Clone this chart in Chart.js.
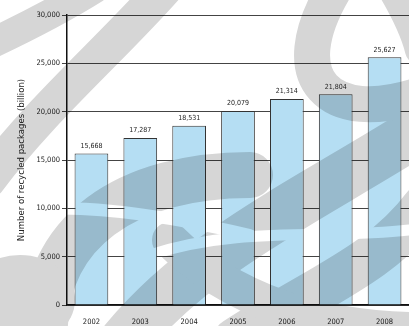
<!DOCTYPE html>
<html lang="en">
<head>
  <meta charset="UTF-8" />
  <title>Recycled packages</title>
  <script src="https://cdn.jsdelivr.net/npm/chart.js"></script>
  <style>
    html, body {
      margin: 0;
      padding: 0;
      background: #ffffff;
    }
    #wrap {
      width: 409px;
      height: 326px;
    }
  </style>
</head>
<body>
  <div id="wrap"><canvas id="chart" width="409" height="326"></canvas></div>

  <script>
    const years = ["2002", "2003", "2004", "2005", "2006", "2007", "2008"];
    const packages = [15668, 17287, 18531, 20079, 21314, 21804, 25627];
    const valueLabels = ["15,668", "17,287", "18,531", "20,079", "21,314", "21,804", "25,627"];
    const yTicks = [0, 5000, 10000, 15000, 20000, 25000, 30000];

    const handFont = "'DejaVu Sans Condensed', 'DejaVu Sans', sans-serif";

    // grey swooshes of the background logo, painted on a spare canvas
    // then laid over the chart with multiply so the bars get darker under them
    function paintLogo(w, h) {
      const off = document.createElement("canvas");
      off.width = w;
      off.height = h;
      const c = off.getContext("2d");
      c.strokeStyle = "#d6d6d6";
      c.fillStyle = "#d6d6d6";
      c.lineCap = "round";
      const swoosh = (lw, p) => {
        c.lineWidth = lw;
        c.beginPath();
        c.moveTo(p[0], p[1]);
        c.bezierCurveTo(p[2], p[3], p[4], p[5], p[6], p[7]);
        c.stroke();
      };
      swoosh(30, [95, -12, 60, 10, 20, 30, -12, 45]);
      swoosh(36, [165, -12, 110, 50, 40, 110, -12, 180]);
      swoosh(46, [45, 340, 40, 230, 130, 175, 250, 175]);
      swoosh(50, [125, 340, 200, 250, 300, 205, 420, 130]);
      swoosh(36, [335, -12, 280, 80, 330, 125, 420, 95]);
      swoosh(30, [392, -12, 405, 10, 415, 30, 420, 50]);
      swoosh(44, [235, 340, 320, 285, 380, 265, 425, 205]);
      swoosh(36, [170, 240, 230, 300, 320, 330, 420, 330]);
      c.beginPath();
      c.ellipse(20, 300, 55, 45, 0, 0, Math.PI * 2);
      c.fill();
      // white streaks cut back out of the grey
      c.globalCompositeOperation = "destination-out";
      swoosh(12, [0, 215, 60, 200, 150, 212, 250, 235]);
      swoosh(11, [150, 255, 240, 225, 330, 240, 409, 230]);
      c.beginPath();
      c.ellipse(350, 42, 12, 16, 0.4, 0, Math.PI * 2);
      c.fill();
      return off;
    }

    const watermark = {
      id: "watermark",
      afterDatasetsDraw(chart) {
        const c = chart.ctx;
        c.save();
        c.globalCompositeOperation = "multiply";
        c.drawImage(paintLogo(chart.width, chart.height), 0, 0);
        c.restore();
      }
    };

    const barLabels = {
      id: "barLabels",
      afterDatasetsDraw(chart) {
        const c = chart.ctx;
        const meta = chart.getDatasetMeta(0);
        c.save();
        c.fillStyle = "#222";
        c.font = "7px " + handFont;
        c.textAlign = "center";
        c.textBaseline = "bottom";
        meta.data.forEach((bar, i) => {
          c.fillText(valueLabels[i], bar.x, bar.y - 4);
        });
        c.restore();
      }
    };

    new Chart(document.getElementById("chart"), {
      type: "bar",
      data: {
        labels: years,
        datasets: [{
          data: packages,
          backgroundColor: "#b5def3",
          borderColor: "#333",
          borderWidth: 1,
          borderSkipped: "bottom",
          barPercentage: 0.69,
          categoryPercentage: 1
        }]
      },
      options: {
        responsive: false,
        animation: false,
        layout: { padding: { top: 15, right: 0, bottom: 0, left: 0 } },
        plugins: {
          legend: { display: false },
          tooltip: { enabled: false }
        },
        scales: {
          x: {
            grid: { display: false },
            border: { color: "#111", width: 1.5 },
            ticks: {
              color: "#222",
              font: { family: handFont, size: 7.5 },
              padding: 5
            },
            afterFit(scale) { scale.height = 21; }
          },
          y: {
            min: 0,
            max: 30000,
            afterBuildTicks(scale) {
              scale.ticks = yTicks.map(v => ({ value: v }));
            },
            grid: { color: "#444", lineWidth: 1, tickLength: 5 },
            border: { color: "#111", width: 1.5 },
            ticks: {
              color: "#222",
              font: { family: handFont, size: 7.5 },
              padding: 2,
              callback: v => v.toLocaleString("en-US")
            },
            title: {
              display: true,
              text: "Number of recycled packages (billion)",
              color: "#222",
              font: { family: handFont, size: 9.5 },
              padding: { top: 16, bottom: 0 }
            },
            afterFit(scale) { scale.width = 67; }
          }
        }
      },
      plugins: [watermark, barLabels]
    });
  </script>
</body>
</html>
